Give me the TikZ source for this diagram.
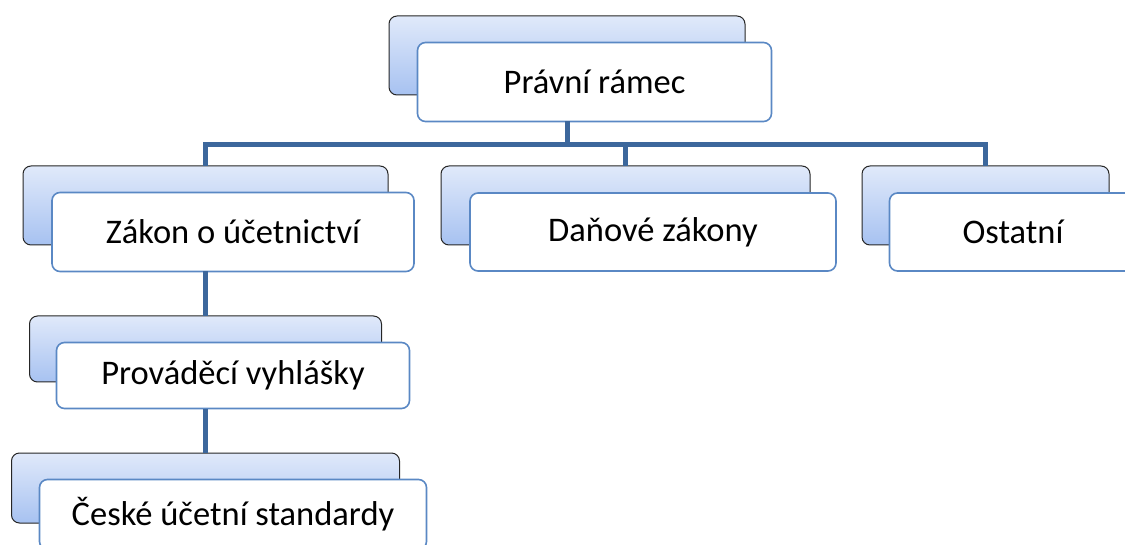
\documentclass[tikz,border=0pt]{standalone}
\usepackage{fontspec}
\setmainfont{Carlito}
\definecolor{linkblue}{HTML}{3C679C}
\definecolor{framebl}{HTML}{5A88C4}
\definecolor{shadetop}{HTML}{E0E9FA}
\definecolor{shadebot}{HTML}{A7C2F1}
\tikzset{
  back/.style={draw=black!85, line width=1pt, rounded corners=8pt,
    top color=shadetop, bottom color=shadebot, inner sep=0pt, outer sep=0pt},
  front/.style={draw=framebl, line width=1.6pt, rounded corners=8pt,
    fill=white, inner sep=0pt, outer sep=0pt,
    font=\fontsize{34.5}{40}\selectfont},
  link/.style={draw=linkblue, line width=5pt}
}
\begin{document}
\begin{tikzpicture}[x=1pt,y=-1pt]
\def\dx{27.5}
\def\dy{26.5}
\useasboundingbox (0,0) rectangle (1125,545);

% top
\node[back, minimum width=356pt, minimum height=79pt] (topb) at (567,55.5) {};
\node[front, minimum width=354pt, minimum height=79pt] (top) at (567+\dx,55.5+\dy) {Právní rámec};

% first row
\node[back, minimum width=365pt, minimum height=79pt] (zakb) at (205.5,205.5) {};
\node[front, minimum width=362pt, minimum height=79pt] (zak) at (205.5+\dx,205.5+\dy) {Zákon o účetnictví};

\node[back, minimum width=369pt, minimum height=79pt] (danb) at (625.5,205.5) {};
\node[front, minimum width=366pt, minimum height=78pt] (dan) at (625.5+\dx,205.5+\dy) {Daňové zákony};

\node[back, minimum width=247pt, minimum height=79pt] (ostb) at (985.5,205.5) {};
\node[front, minimum width=247pt, minimum height=78pt] (ost) at (985.5+\dx,205.5+\dy) {Ostatní};

% below
\node[back, minimum width=352pt, minimum height=66pt] (provb) at (205.5,349) {};
\node[front, minimum width=353pt, minimum height=66pt] (prov) at (205.5+\dx,349+\dy) {Prováděcí vyhlášky};

\node[back, minimum width=388pt, minimum height=70pt] (csub) at (205.5,488) {};
\node[front, minimum width=387pt, minimum height=70pt] (csu) at (205.5+\dx,488+\dy) {České účetní standardy};

% links
\coordinate (bus) at (567,145);
\draw[link] (topb.center |- top.south) -- (bus) -| (zakb.north);
\draw[link] (bus) -| (danb.north);
\draw[link] (bus) -| (ostb.north);
\draw[link] (zakb.center |- zak.south) -- (provb.north);
\draw[link] (provb.center |- prov.south) -- (csub.north);

\end{tikzpicture}
\end{document}
